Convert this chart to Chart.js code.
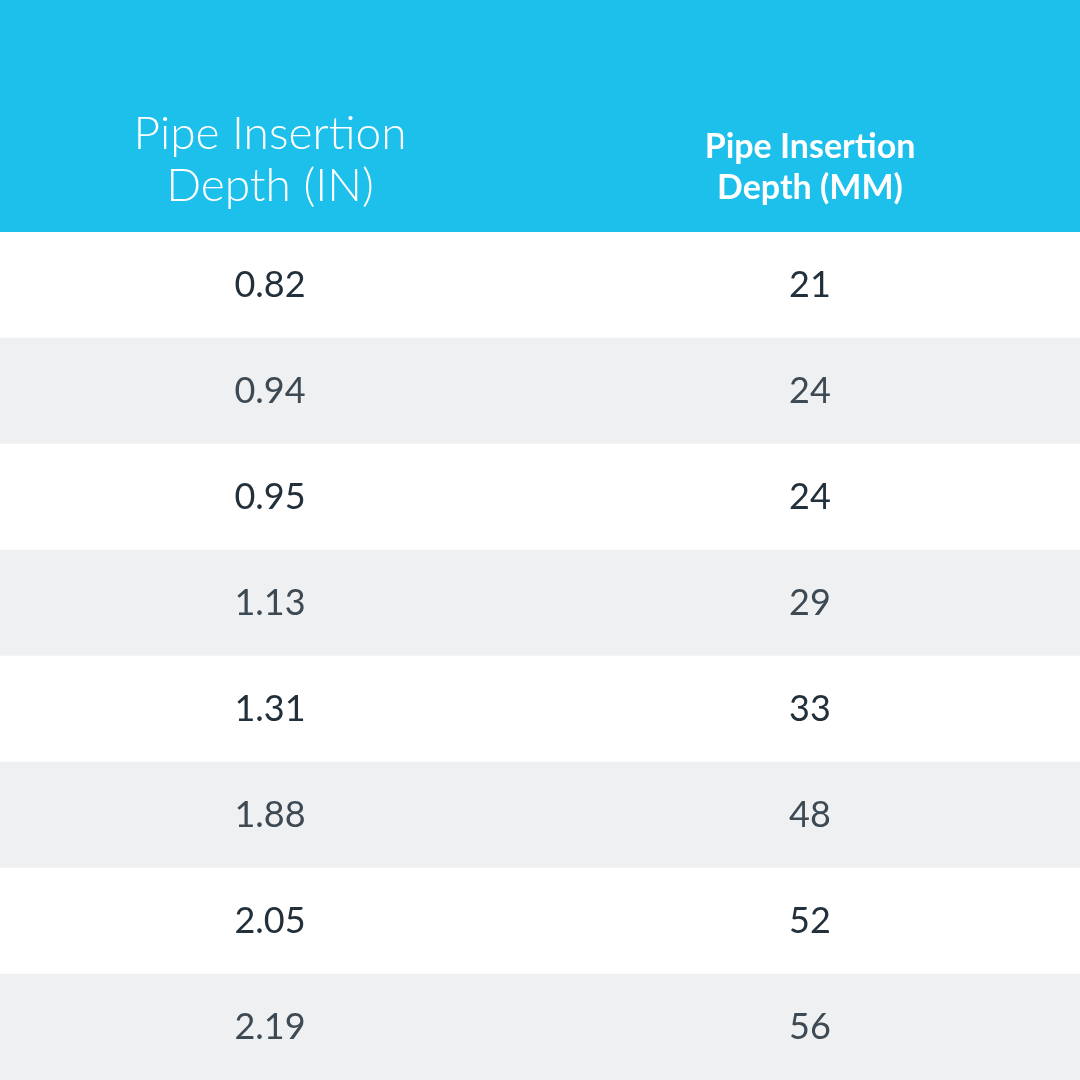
<!DOCTYPE html>
<html><head><meta charset="utf-8">
<script src="https://cdn.jsdelivr.net/npm/chart.js"></script>
<style>html,body{margin:0;padding:0;background:#fff}#c{display:block}</style>
</head><body>
<div style="width:1080px;height:1080px"><canvas id="c" width="1080" height="1080"></canvas></div>
<script>
const headers = ["Pipe Insertion\nDepth (IN)", "Pipe Insertion\nDepth (MM)"];
const inches = ["0.82","0.94","0.95","1.13","1.31","1.88","2.05","2.19"];
const mm = ["21","24","24","29","33","48","52","56"];
const rowKeys = inches.map((v,i)=>"r"+i);
const rowColors = rowKeys.map((k,i)=> i%2===0 ? "#ffffff" : "#eff0f2");
const FONT = "Lato, 'Open Sans', sans-serif";

const tablePlugin = {
  id:'table',
  beforeDatasetsDraw(chart){
    const {ctx, chartArea} = chart;
    ctx.save();
    ctx.fillStyle = "#1dbfeb";
    ctx.fillRect(0,0,chart.width,chartArea.top);
    ctx.restore();
  },
  afterDatasetsDraw(chart){
    const {ctx, chartArea, scales:{x,y}} = chart;
    ctx.save();
    ctx.textAlign = "center"; ctx.textBaseline = "middle";
    ctx.fillStyle = "#ffffff";
    // header
    const hx0 = x.getPixelForValue(0.5), hx1 = x.getPixelForValue(1.5);
    ctx.font = "300 46px " + FONT;
    headers[0].split("\n").forEach((l,i)=>ctx.fillText(l,hx0,134+i*52));
    ctx.font = "bold 34px " + FONT;
    headers[1].split("\n").forEach((l,i)=>ctx.fillText(l,hx1,147+i*41));
    ctx.font = "36px " + FONT;
    rowKeys.forEach((k,i)=>{
      const py = y.getPixelForValue(i);
      ctx.fillStyle = i%2===0 ? "#22303b" : "#3d4953";
      ctx.fillText(inches[i], hx0, py);
      ctx.fillText(mm[i], hx1, py);
    });
    ctx.restore();
  }
};

new Chart(document.getElementById('c'), {
  type:'bar',
  data:{labels:rowKeys, datasets:[{data:rowKeys.map(()=>[0,2]), backgroundColor:rowColors, borderWidth:0, categoryPercentage:1, barPercentage:1}]},
  options:{
    indexAxis:'y', responsive:false, animation:false,
    layout:{padding:{top:232,left:0,right:0,bottom:0}},
    plugins:{legend:{display:false}, tooltip:{enabled:false}},
    scales:{
      x:{type:'linear',min:0,max:2,display:false},
      y:{type:'category',display:false,offset:true}
    }
  },
  plugins:[tablePlugin]
});
</script>
</body></html>
